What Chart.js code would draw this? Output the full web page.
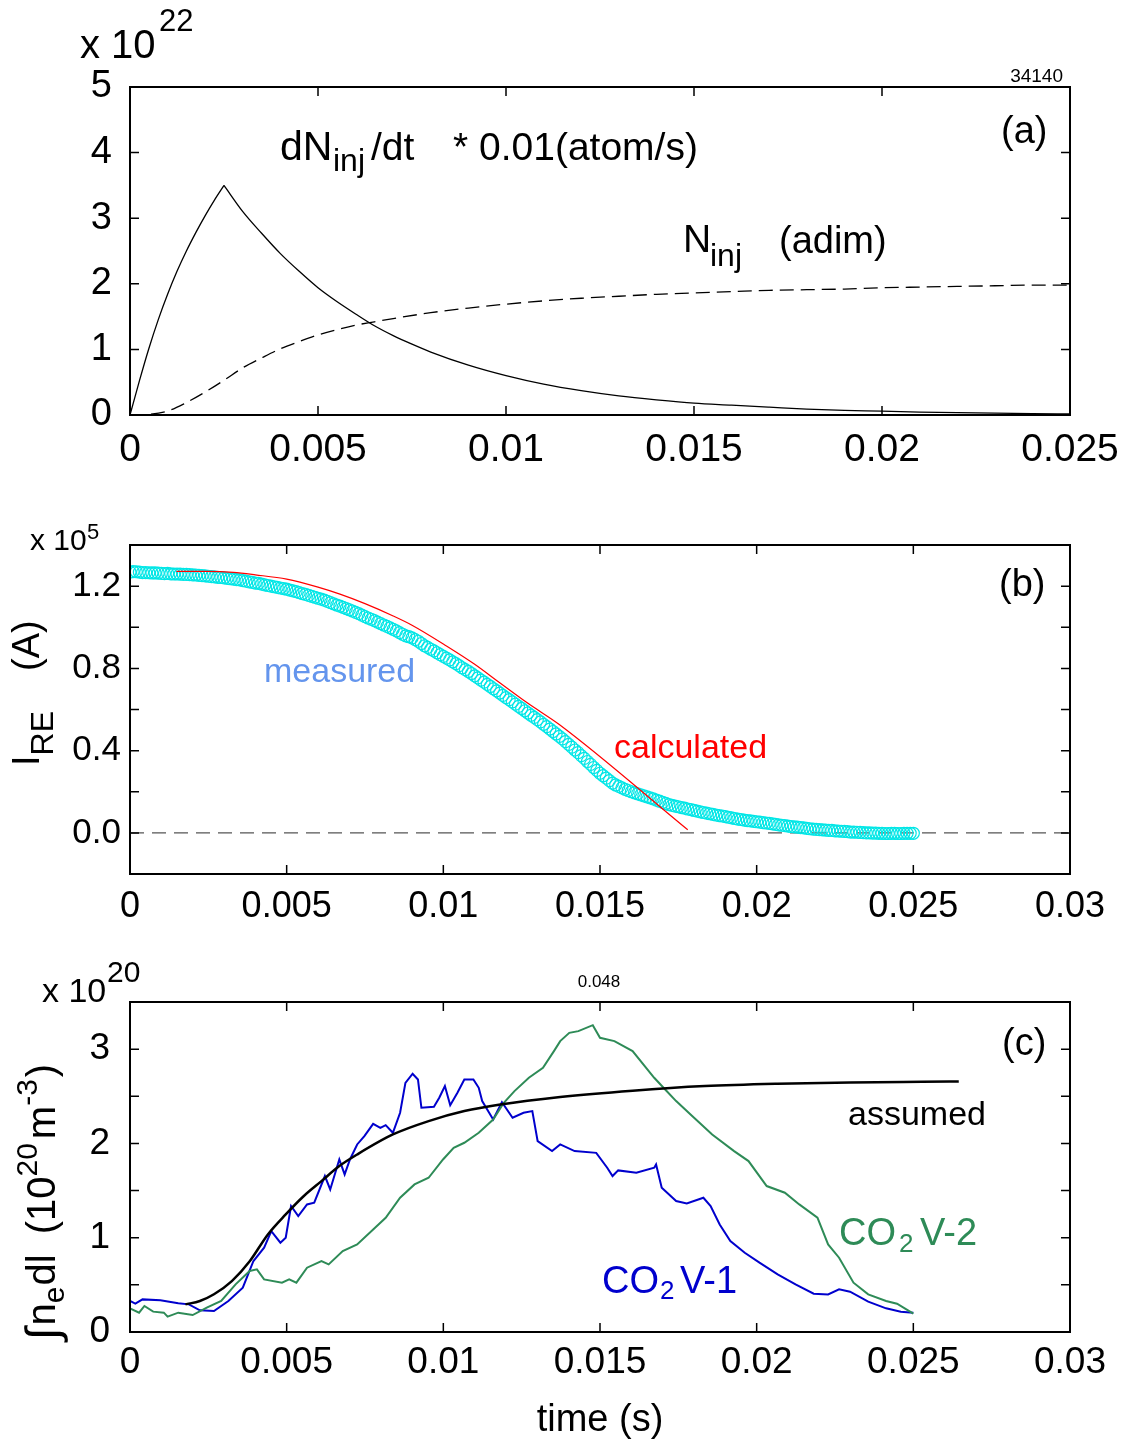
<!DOCTYPE html>
<html>
<head>
<meta charset="utf-8">
<script src="https://cdn.jsdelivr.net/npm/chart.js@4.4.0/dist/chart.umd.min.js"></script>
<style>
  html, body { margin: 0; padding: 0; background: #fff; }
  #wrap { position: relative; width: 1129px; height: 1443px; }
  canvas { position: absolute; left: 0; }
</style>
</head>
<body>
<div id="wrap">
  <canvas id="panelA" width="1129" height="480" style="top:0"></canvas>
  <canvas id="panelB" width="1129" height="460" style="top:480px"></canvas>
  <canvas id="panelC" width="1129" height="503" style="top:940px"></canvas>
</div>
<script>
// ---- (a) injection rate and injected amount (x 1e22) ----
// rate: rising part up to the valve peak, then the decay
const riseT = [0, 0.00025, 0.0005, 0.00075, 0.001, 0.00125, 0.0015, 0.00175, 0.002, 0.00225, 0.0025];
const riseV = [0, 0.52, 1.01, 1.45, 1.84, 2.19, 2.50, 2.78, 3.04, 3.28, 3.50];
const decayT = [0.0025, 0.003, 0.0035, 0.004, 0.0045, 0.005, 0.0055, 0.006, 0.0065, 0.007, 0.0075,
  0.008, 0.009, 0.010, 0.011, 0.012, 0.013, 0.014, 0.015, 0.016, 0.017, 0.018, 0.019, 0.020,
  0.021, 0.022, 0.023, 0.024, 0.025];
const decayV = [3.50, 3.10, 2.77, 2.46, 2.19, 1.94, 1.73, 1.54, 1.36, 1.21, 1.08,
  0.96, 0.76, 0.60, 0.47, 0.37, 0.29, 0.23, 0.18, 0.15, 0.12, 0.09, 0.07, 0.06,
  0.045, 0.035, 0.03, 0.02, 0.016];

const ninjT = [0, 0.0005, 0.001, 0.0015, 0.002, 0.0025, 0.003, 0.0035, 0.004, 0.0045, 0.005, 0.0055,
  0.006, 0.0065, 0.007, 0.008, 0.009, 0.010, 0.011, 0.012, 0.013, 0.014, 0.015, 0.016, 0.017,
  0.018, 0.019, 0.020, 0.021, 0.022, 0.023, 0.024, 0.025];
const ninjV = [0, 0.01, 0.06, 0.19, 0.35, 0.53, 0.72, 0.87, 1.01, 1.12, 1.22, 1.30,
  1.37, 1.42, 1.47, 1.56, 1.63, 1.69, 1.74, 1.78, 1.81, 1.84, 1.86, 1.88, 1.90,
  1.91, 1.92, 1.94, 1.95, 1.96, 1.97, 1.98, 1.98];

// ---- (b) runaway current (x 1e5 A) ----
const measuredDt = 0.0001;   // one sample every 0.1 ms from t = 0
const measuredV = [
  1.268, 1.271, 1.270, 1.268, 1.266, 1.266, 1.265, 1.264, 1.264, 1.263,
  1.262, 1.261, 1.262, 1.260, 1.259, 1.259, 1.258, 1.257, 1.257, 1.256,
  1.255, 1.254, 1.252, 1.251, 1.250, 1.248, 1.246, 1.245, 1.243, 1.242,
  1.240, 1.238, 1.236, 1.234, 1.232, 1.230, 1.227, 1.224, 1.221, 1.218,
  1.215, 1.213, 1.210, 1.206, 1.203, 1.200, 1.197, 1.194, 1.191, 1.188,
  1.185, 1.181, 1.177, 1.173, 1.168, 1.164, 1.160, 1.155, 1.150, 1.146,
  1.141, 1.137, 1.132, 1.126, 1.120, 1.114, 1.108, 1.103, 1.097, 1.091,
  1.085, 1.079, 1.072, 1.066, 1.059, 1.052, 1.045, 1.039, 1.032, 1.025,
  1.018, 1.011, 1.004, 0.997, 0.990, 0.982, 0.974, 0.966, 0.958, 0.954,
  0.948, 0.940, 0.932, 0.921, 0.910, 0.902, 0.893, 0.885, 0.876, 0.867,
  0.858, 0.850, 0.841, 0.832, 0.823, 0.813, 0.803, 0.794, 0.785, 0.775,
  0.764, 0.754, 0.743, 0.733, 0.722, 0.712, 0.701, 0.691, 0.680, 0.669,
  0.658, 0.648, 0.637, 0.626, 0.615, 0.605, 0.594, 0.583, 0.572, 0.562,
  0.551, 0.540, 0.528, 0.517, 0.505, 0.493, 0.481, 0.469, 0.457, 0.444,
  0.430, 0.417, 0.403, 0.390, 0.376, 0.362, 0.347, 0.333, 0.318, 0.304,
  0.290, 0.278, 0.266, 0.254, 0.242, 0.233, 0.226, 0.219, 0.212, 0.206,
  0.200, 0.195, 0.190, 0.185, 0.180, 0.175, 0.170, 0.165, 0.159, 0.154,
  0.148, 0.143, 0.137, 0.134, 0.130, 0.127, 0.123, 0.120, 0.116, 0.113,
  0.109, 0.106, 0.102, 0.099, 0.096, 0.093, 0.090, 0.087, 0.084, 0.082,
  0.079, 0.076, 0.073, 0.070, 0.067, 0.065, 0.062, 0.060, 0.058, 0.056,
  0.054, 0.052, 0.050, 0.048, 0.046, 0.044, 0.041, 0.039, 0.037, 0.035,
  0.033, 0.031, 0.029, 0.028, 0.026, 0.024, 0.022, 0.020, 0.018, 0.017,
  0.016, 0.015, 0.013, 0.012, 0.012, 0.010, 0.009, 0.008, 0.007, 0.006,
  0.004, 0.004, 0.003, 0.002, 0.001, 0.000, 0.000, -0.001, -0.001, -0.002,
  -0.002, -0.003, -0.003, -0.002, -0.002, -0.003, -0.003, -0.002, -0.002, -0.002,
  -0.002];

const calcT = [0.00148, 0.0025, 0.0033, 0.004, 0.005, 0.006, 0.0067, 0.0075, 0.0084, 0.009,
  0.0101, 0.011, 0.0118, 0.0127, 0.0137, 0.0178];
const calcV = [1.272, 1.272, 1.267, 1.255, 1.234, 1.195, 1.161, 1.115, 1.055, 1.010,
  0.909, 0.820, 0.730, 0.630, 0.527, 0.015];

// ---- (c) line-integrated density (x 1e20 m^-2) ----
const assumedT = [0.00177, 0.00223, 0.00268, 0.00325, 0.00382, 0.0044, 0.00497, 0.00554, 0.00611,
  0.00668, 0.00725, 0.00839, 0.00953, 0.01067, 0.01182, 0.01373, 0.01604, 0.01835, 0.02066,
  0.02298, 0.02529, 0.02645];
const assumedV = [0.293, 0.329, 0.40, 0.54, 0.75, 1.035, 1.247, 1.44, 1.60,
  1.76, 1.883, 2.095, 2.237, 2.343, 2.413, 2.493, 2.56, 2.608, 2.633,
  2.647, 2.654, 2.657];

const v1T = [0, 0.00017, 0.0004, 0.00097, 0.00154, 0.00188, 0.00223, 0.00268, 0.00314, 0.0036,
  0.00394, 0.00428, 0.00451, 0.0048, 0.00497, 0.00514, 0.00537, 0.00565, 0.00588, 0.00622,
  0.00639, 0.00668, 0.00685, 0.00702, 0.00725, 0.00748, 0.00776, 0.00799, 0.00816, 0.00839,
  0.00862, 0.00879, 0.00902, 0.00919, 0.0093, 0.0097, 0.00987, 0.01005, 0.01022, 0.01045,
  0.01067, 0.01096, 0.01113, 0.01124, 0.01159, 0.01187, 0.01221, 0.01256, 0.01284, 0.01301,
  0.01347, 0.01373, 0.01419, 0.01488, 0.01523, 0.0154, 0.01558, 0.01616, 0.01673, 0.01679,
  0.01697, 0.01743, 0.01777, 0.0183, 0.01853, 0.01882, 0.01916, 0.01962, 0.02009, 0.02067,
  0.02124, 0.02182, 0.02228, 0.02263, 0.02298, 0.02356, 0.02413, 0.0246, 0.025];
const v1V = [0.329, 0.30, 0.346, 0.336, 0.304, 0.293, 0.23, 0.223, 0.329, 0.47,
  0.753, 0.894, 1.07, 0.947, 1.0, 1.336, 1.23, 1.353, 1.371, 1.654,
  1.512, 1.83, 1.671, 1.83, 1.989, 2.078, 2.208, 2.166, 2.194, 2.113,
  2.325, 2.643, 2.739, 2.678, 2.378, 2.389, 2.484, 2.608, 2.406, 2.537,
  2.678, 2.678, 2.59, 2.449, 2.254, 2.438, 2.272, 2.325, 2.343, 2.025,
  1.919, 1.989, 1.919, 1.90, 1.742, 1.654, 1.714, 1.689, 1.742, 1.777,
  1.53, 1.389, 1.364, 1.424, 1.336, 1.141, 0.965, 0.841, 0.735, 0.611,
  0.505, 0.406, 0.399, 0.452, 0.428, 0.322, 0.251, 0.216, 0.205];

const v2T = [0, 0.00029, 0.00046, 0.00074, 0.00108, 0.0012, 0.00154, 0.002, 0.00245, 0.00291,
  0.00337, 0.00382, 0.00405, 0.00428, 0.00485, 0.00508, 0.00531, 0.00565, 0.00611, 0.00634,
  0.00679, 0.00725, 0.00782, 0.00816, 0.00862, 0.00908, 0.00953, 0.00999, 0.01033, 0.01067,
  0.01113, 0.01159, 0.01193, 0.01227, 0.01273, 0.01318, 0.01353, 0.01373, 0.01402, 0.01431,
  0.01477, 0.015, 0.01546, 0.01604, 0.01673, 0.01708, 0.01743, 0.01789, 0.01858, 0.01928,
  0.01974, 0.02032, 0.0209, 0.02136, 0.02194, 0.02228, 0.02263, 0.02309, 0.02356, 0.02413,
  0.02448, 0.025];
const v2V = [0.251, 0.205, 0.276, 0.216, 0.205, 0.163, 0.205, 0.18, 0.258, 0.329,
  0.505, 0.647, 0.664, 0.558, 0.523, 0.558, 0.523, 0.682, 0.753, 0.717,
  0.859, 0.929, 1.106, 1.212, 1.424, 1.565, 1.636, 1.83, 1.954, 2.007,
  2.113, 2.254, 2.431, 2.555, 2.696, 2.802, 2.979, 3.085, 3.173, 3.191,
  3.254, 3.12, 3.085, 2.979, 2.696, 2.572, 2.449, 2.307, 2.095, 1.919,
  1.813, 1.548, 1.477, 1.353, 1.212, 0.929, 0.788, 0.523, 0.399, 0.329,
  0.30, 0.194];

// ---- ticks ----
const xTicksA = [0, 0.005, 0.01, 0.015, 0.02, 0.025];
const xTicksBC = [0, 0.005, 0.01, 0.015, 0.02, 0.025, 0.03];
const yTicksA = [0, 1, 2, 3, 4, 5];
const yTicksB = [-0.2, 0, 0.2, 0.4, 0.6, 0.8, 1.0, 1.2, 1.4];
const yLabelsB = ['', '0.0', '', '0.4', '', '0.8', '', '1.2', ''];
const yTicksC = [0, 0.5, 1, 1.5, 2, 2.5, 3, 3.5];
const yLabelsC = ['0', '', '1', '', '2', '', '3', ''];

const FONT = "'Liberation Sans', Arial, Helvetica, sans-serif";
const pts = (xs, ys) => xs.map((x, i) => ({ x, y: ys[i] }));
const fmtX = v => String(Number(v.toFixed(3)));

// box around the plot with inward ticks on all four sides
const framePlugin = {
  id: 'frame',
  afterDraw(chart) {
    const { ctx, chartArea: a, scales: { x, y } } = chart;
    const len = 9;
    ctx.save();
    ctx.strokeStyle = '#000';
    ctx.lineWidth = 1.5;
    ctx.beginPath();
    x.ticks.forEach(t => {
      const px = x.getPixelForValue(t.value);
      ctx.moveTo(px, a.bottom); ctx.lineTo(px, a.bottom - len);
      ctx.moveTo(px, a.top); ctx.lineTo(px, a.top + len);
    });
    y.ticks.forEach(t => {
      const py = y.getPixelForValue(t.value);
      ctx.moveTo(a.left, py); ctx.lineTo(a.left + len, py);
      ctx.moveTo(a.right, py); ctx.lineTo(a.right - len, py);
    });
    ctx.stroke();
    ctx.lineWidth = 2;
    ctx.strokeRect(a.left, a.top, a.right - a.left, a.bottom - a.top);
    ctx.restore();
  }
};

// free text in page pixels.
// plain run: x = left (or per align), y = baseline
// rotated run (rot): reads bottom-to-top, x = baseline, y = start; parts flow one after another
function notesPlugin(top, runs) {
  return {
    id: 'notes',
    afterDraw(chart) {
      const ctx = chart.ctx;
      ctx.save();
      ctx.translate(0, -top);
      ctx.textBaseline = 'alphabetic';
      runs.forEach(r => {
        ctx.save();
        ctx.fillStyle = r.color || '#000';
        if (r.rot) {
          ctx.translate(r.x, r.y);
          ctx.rotate(-Math.PI / 2);
          ctx.textAlign = 'left';
          let pos = 0;
          r.parts.forEach(p => {
            ctx.font = `${p.size}px ${p.family || FONT}`;
            pos += p.dx || 0;
            ctx.fillText(p.text, pos, p.dy || 0);
            pos += ctx.measureText(p.text).width;
          });
        } else {
          ctx.font = `${r.size}px ${FONT}`;
          ctx.textAlign = r.align || 'left';
          ctx.fillText(r.text, r.x, r.y);
        }
        ctx.restore();
      });
      ctx.restore();
    }
  };
}

function makeChart(id, p) {
  return new Chart(document.getElementById(id), {
    type: 'scatter',
    data: { datasets: p.datasets },
    options: {
      responsive: false,
      animation: false,
      events: [],
      layout: { padding: { left: 0, right: 1129 - 1070, top: p.plotTop - p.top, bottom: 0 } },
      plugins: { legend: { display: false }, tooltip: { enabled: false } },
      elements: { line: { tension: 0 } },
      scales: {
        x: {
          type: 'linear', min: 0, max: p.xTicks[p.xTicks.length - 1],
          border: { display: false }, grid: { display: false },
          afterBuildTicks: s => { s.ticks = p.xTicks.map(v => ({ value: v })); },
          afterFit: s => { s.height = p.top + p.height - p.plotBottom; },
          ticks: {
            autoSkip: false, maxRotation: 0, color: '#000', padding: p.xPad,
            font: { family: FONT, size: p.xFont }, callback: fmtX
          },
          title: p.xTitle || { display: false }
        },
        y: {
          type: 'linear', min: p.yTicks[0], max: p.yTicks[p.yTicks.length - 1],
          border: { display: false }, grid: { display: false },
          afterBuildTicks: s => { s.ticks = p.yTicks.map(v => ({ value: v })); },
          afterFit: s => { s.width = 130; },
          ticks: {
            autoSkip: false, color: '#000', padding: p.yPad,
            font: { family: FONT, size: p.yFont },
            callback: (v, i) => p.yLabels[i]
          }
        }
      }
    },
    plugins: [framePlugin, notesPlugin(p.top, p.notes)]
  });
}

const smooth = { showLine: true, pointRadius: 0, cubicInterpolationMode: 'monotone' };

// (a)
makeChart('panelA', {
  top: 0, height: 480, plotTop: 87, plotBottom: 415,
  xTicks: xTicksA, yTicks: yTicksA, yLabels: yTicksA.map(String),
  xFont: 39, yFont: 38, xPad: 4, yPad: 10,
  datasets: [
    { ...smooth, data: pts(riseT, riseV), borderColor: '#000', borderWidth: 1.3 },
    { ...smooth, data: pts(decayT, decayV), borderColor: '#000', borderWidth: 1.3 },
    { ...smooth, data: pts(ninjT, ninjV), borderColor: '#000', borderWidth: 1.3, borderDash: [14, 7] }
  ],
  notes: [
    { text: 'x 10', size: 40, x: 80, y: 58 },
    { text: '22', size: 31, x: 159, y: 31 },
    { text: '34140', size: 19, x: 1063, y: 82, align: 'right' },
    { text: '(a)', size: 38, x: 1001, y: 143 },
    { text: 'dN', size: 41, x: 280, y: 160 },
    { text: 'inj', size: 32, x: 333, y: 171 },
    { text: '/dt', size: 39, x: 371, y: 160 },
    { text: '* 0.01(atom/s)', size: 39, x: 453, y: 160 },
    { text: 'N', size: 39, x: 683, y: 252 },
    { text: 'inj', size: 32, x: 710, y: 266 },
    { text: '(adim)', size: 38, x: 779, y: 253 }
  ]
});

// (b)
makeChart('panelB', {
  top: 480, height: 460, plotTop: 545, plotBottom: 874,
  xTicks: xTicksBC, yTicks: yTicksB, yLabels: yLabelsB,
  xFont: 36, yFont: 35, xPad: 3, yPad: 1,
  datasets: [
    { ...smooth, data: pts(calcT, calcV), borderColor: '#ff0000', borderWidth: 1.2 },
    { data: measuredV.map((v, i) => ({ x: i * measuredDt, y: v })), showLine: false,
      pointStyle: 'circle', pointRadius: 6, borderWidth: 1.2,
      borderColor: '#00e6e6', backgroundColor: 'rgba(0,0,0,0)' },
    { data: pts([0, 0.03], [0, 0]), showLine: true, borderColor: '#555', borderWidth: 1.2,
      pointRadius: 0, borderDash: [14, 8] }
  ],
  notes: [
    { text: 'x 10', size: 30, x: 30, y: 550 },
    { text: '5', size: 22, x: 87, y: 539 },
    { text: '(b)', size: 38, x: 999, y: 596 },
    { text: 'measured', size: 34, x: 264, y: 682, color: '#6495ed' },
    { text: 'calculated', size: 34, x: 614, y: 758, color: '#ff0000' },
    { rot: true, x: 39, y: 766, parts: [
      { text: 'I', size: 38 },
      { text: 'RE', size: 32, dy: 14 },
      { text: '(A)', size: 38, dx: 40 }
    ] }
  ]
});

// (c)
makeChart('panelC', {
  top: 940, height: 503, plotTop: 1002, plotBottom: 1332,
  xTicks: xTicksBC, yTicks: yTicksC, yLabels: yLabelsC,
  xFont: 37, yFont: 37, xPad: 1, yPad: 12,
  xTitle: { display: true, text: 'time (s)', color: '#000', font: { family: FONT, size: 38 }, padding: { top: 0, bottom: 0 } },
  datasets: [
    { ...smooth, data: pts(assumedT, assumedV), borderColor: '#000', borderWidth: 2.5 },
    { data: pts(v2T, v2V), showLine: true, borderColor: '#2e8b57', borderWidth: 2, pointRadius: 0 },
    { data: pts(v1T, v1V), showLine: true, borderColor: '#0000cd', borderWidth: 2, pointRadius: 0 }
  ],
  notes: [
    { text: 'x 10', size: 34, x: 42, y: 1002 },
    { text: '20', size: 30, x: 107, y: 982 },
    { text: '0.048', size: 17, x: 599, y: 987, align: 'center' },
    { text: '(c)', size: 38, x: 1002, y: 1055 },
    { text: 'assumed', size: 34, x: 848, y: 1125 },
    { text: 'CO', size: 38, x: 839, y: 1245, color: '#2e8b57' },
    { text: '2', size: 26, x: 899, y: 1252, color: '#2e8b57' },
    { text: 'V-2', size: 38, x: 920, y: 1245, color: '#2e8b57' },
    { text: 'CO', size: 38, x: 602, y: 1293, color: '#0000cd' },
    { text: '2', size: 26, x: 660, y: 1299, color: '#0000cd' },
    { text: 'V-1', size: 38, x: 680, y: 1293, color: '#0000cd' },
    { rot: true, x: 55, y: 1340, parts: [
      { text: '\u222B', size: 46, dy: 3 },
      { text: 'n', size: 40, dx: 2 },
      { text: 'e', size: 30, dy: 9 },
      { text: 'dl', size: 40, dx: 1 },
      { text: '(10', size: 40, dx: 20 },
      { text: '20', size: 30, dy: -18 },
      { text: 'm', size: 40, dx: 4 },
      { text: '-3', size: 30, dy: -18 },
      { text: ')', size: 40, dx: 2 }
    ] }
  ]
});
</script>
</body>
</html>
